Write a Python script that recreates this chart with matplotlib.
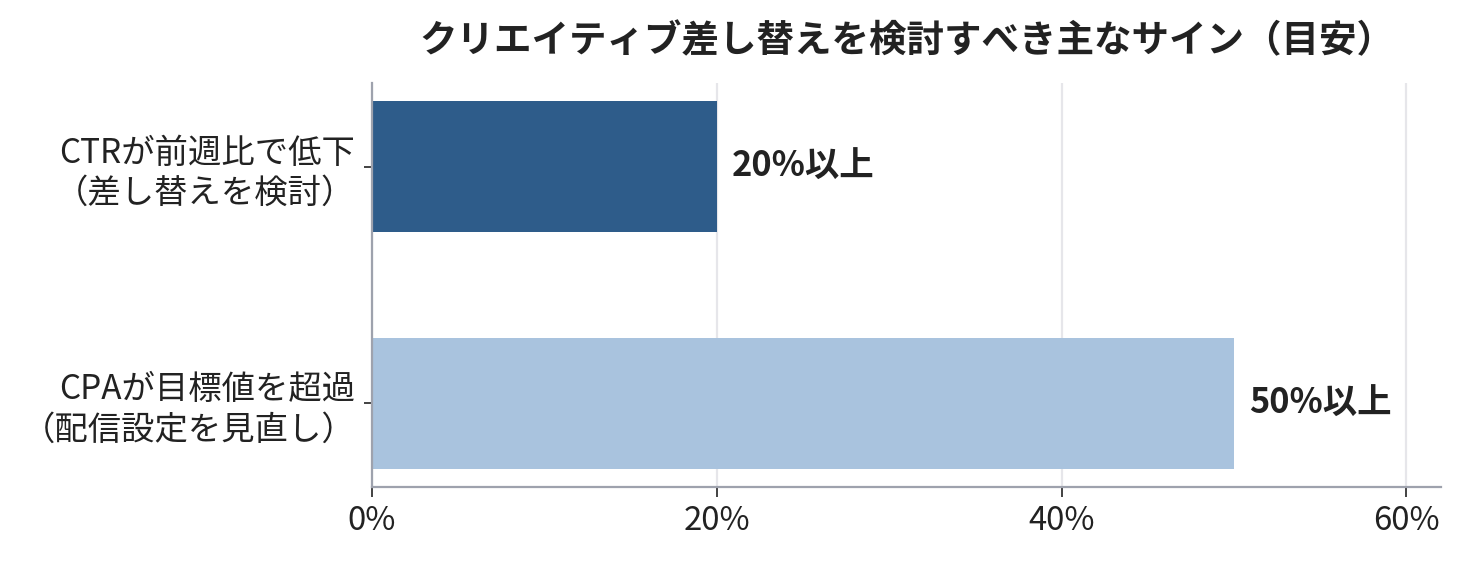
import matplotlib
matplotlib.use("Agg")
import matplotlib.pyplot as plt
from matplotlib.ticker import FuncFormatter

plt.rcParams['font.family'] = ['Noto Sans CJK JP', 'DejaVu Sans']

# data
categories = ["CPAが目標値を超過\n（配信設定を見直し）",
              "CTRが前週比で低下\n（差し替えを検討）"]
values = [50, 20]
bar_labels = ["50%以上", "20%以上"]
bar_colors = ["#a9c3de", "#2e5c8a"]
title = "クリエイティブ差し替えを検討すべき主なサイン（目安）"

text_col = "#222222"
spine_col = "#9ea2ad"

fig = plt.figure(figsize=(7.305, 2.81), dpi=200)
ax = fig.add_axes([0.2546, 0.1335, 0.7317, 0.7188])

ypos = list(range(len(categories)))
bars = ax.barh(ypos, values, height=0.55, color=bar_colors, zorder=2)

for b, lab in zip(bars, bar_labels):
    ax.annotate(lab, (b.get_width(), b.get_y() + b.get_height() / 2),
                xytext=(5.5, 0), textcoords="offset points",
                ha="left", va="center", fontsize=12.4, fontweight="bold",
                color=text_col)

ax.set_xlim(0, 62)
ax.set_xticks([0, 20, 40, 60])
ax.xaxis.set_major_formatter(FuncFormatter(lambda v, p: f"{v:.0f}%"))
ax.set_yticks(ypos)
ax.set_yticklabels(categories)

ax.grid(axis="x", color="#e6e6ea", linewidth=0.8, zorder=0)
ax.set_axisbelow(True)

for s in ["top", "right"]:
    ax.spines[s].set_visible(False)
for s in ["left", "bottom"]:
    ax.spines[s].set_color(spine_col)
    ax.spines[s].set_linewidth(0.8)

ax.tick_params(axis="x", length=3.5, width=0.6, color=text_col,
               labelsize=11.8, labelcolor=text_col, pad=3)
ax.tick_params(axis="y", length=3, width=0.6, color=text_col,
               labelsize=12, labelcolor=text_col, pad=3)

ax.set_title(title, fontsize=13.5, fontweight="bold", color=text_col, pad=11)

fig.savefig("out.png", dpi=200)
